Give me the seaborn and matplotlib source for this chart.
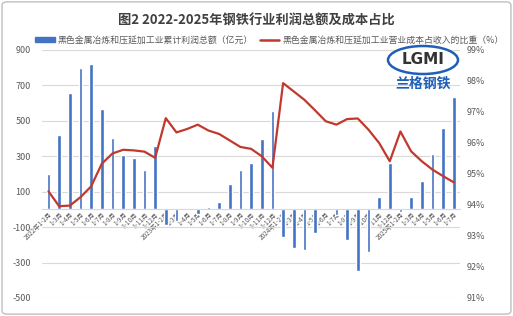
import numpy as np
import pandas as pd
import matplotlib
matplotlib.use("Agg")
import matplotlib.pyplot as plt
import seaborn as sns
from matplotlib.patches import FancyBboxPatch, Ellipse, Patch
from matplotlib.lines import Line2D

sns.set_style("white")
plt.rcParams['font.family'] = ['Noto Sans CJK SC', 'DejaVu Sans']
plt.rcParams['axes.unicode_minus'] = False

title = "图2 2022-2025年钢铁行业利润总额及成本占比"
bar_label = "黑色金属冶炼和压延加工业累计利润总额（亿元）"
line_label = "黑色金属冶炼和压延加工业营业成本占收入的比重（%）"

months = ["1-2月", "1-3月", "1-4月", "1-5月", "1-6月", "1-7月", "1-8月", "1-9月", "1-10月", "1-11月", "1-12月"]
categories = (["2022年1-2月"] + months[1:] +
              ["2023年1-2月"] + months[1:] +
              ["2024年1-2月"] + months[1:] +
              ["2025年1-2月"] + months[1:6])

profit = [200, 420, 655, 796, 821, 565, 405, 307, 292, 222, 360,
          -90, -65, 4, -25, 12, 43, 143, 222, 260, 396, 557,
          -154, -218, -229, -134, 3, -30, -172, -348, -239, 72, 264,
          -15, 70, 162, 311, 458, 636]

ratio = [94.44, 93.96, 93.98, 94.25, 94.6, 95.33, 95.66, 95.78, 95.76, 95.72, 95.52,
         96.8, 96.34, 96.45, 96.59, 96.4, 96.29, 96.08, 95.87, 95.81, 95.57, 95.2,
         97.93, 97.66, 97.39, 97.05, 96.7, 96.59, 96.77, 96.79, 96.43, 96.0, 95.41,
         96.37, 95.73, 95.41, 95.14, 94.93, 94.73]

left_ticks = [-500, -300, -100, 100, 300, 500, 700, 900]
right_ticks = [91, 92, 93, 94, 95, 96, 97, 98, 99]

df = pd.DataFrame({"cat": categories, "profit": profit, "ratio": ratio})
df["pos"] = np.arange(len(df))

BLUE = "#4472C4"
RED = "#C0392F"
GRID = "#D9D9D9"
TXT = "#595959"

fig = plt.figure(figsize=(5.13, 3.16), dpi=100)
ax = fig.add_axes([0.082, 0.057, 0.815, 0.785])

sns.barplot(data=df, x="pos", y="profit", color=BLUE, width=0.34, ax=ax,
            saturation=1, errorbar=None)
ax.set_ylim(-500, 900)
ax.set_xlim(-0.6, len(categories) - 0.4)
ax.set_yticks(left_ticks)
ax.set_yticklabels([str(t) for t in left_ticks], fontsize=6.5, color=TXT)
ax.yaxis.grid(True, color=GRID, linewidth=0.8)
ax.set_axisbelow(True)
for s in ["top", "right", "left"]:
    ax.spines[s].set_visible(False)
ax.spines["bottom"].set_position(("data", 0))
ax.spines["bottom"].set_color(GRID)
ax.spines["bottom"].set_linewidth(0.8)
ax.set_xlabel("")
ax.set_ylabel("")
ax.tick_params(axis="y", length=0, pad=8)
ax.tick_params(axis="x", length=0, pad=1)
ax.set_xticks(range(len(categories)))
ax.set_xticklabels(categories, rotation=45, ha="right", rotation_mode="anchor",
                   fontsize=4.6, color=TXT)

ax2 = ax.twinx()
sns.lineplot(data=df, x="pos", y="ratio", color=RED, linewidth=1.6, ax=ax2)
ax2.set_ylim(91, 99)
ax2.set_yticks(right_ticks)
ax2.set_yticklabels([f"{t}%" for t in right_ticks], fontsize=6.5, color=TXT)
ax2.tick_params(axis="y", length=0, pad=5)
for s in ["top", "right", "left", "bottom"]:
    ax2.spines[s].set_visible(False)
ax2.set_xlabel("")
ax2.set_ylabel("")
ax2.set_xlim(-0.6, len(categories) - 0.4)

fig.text(0.5, 0.935, title, ha="center", va="center", fontsize=9.5,
         fontweight="bold", color="#404040")

handles = [Patch(facecolor=BLUE, edgecolor=BLUE),
           Line2D([0], [0], color=RED, linewidth=1.8)]
fig.legend(handles, [bar_label, line_label], loc="center", ncol=2,
           bbox_to_anchor=(0.525, 0.872), frameon=False, fontsize=6.4,
           labelcolor=TXT, handlelength=2.2, handleheight=0.5,
           columnspacing=0.8, handletextpad=0.3)

# logo watermark
fig.patches.append(Ellipse((423 / 513, 1 - 60 / 316), 70 / 513, 28 / 316,
                           transform=fig.transFigure, facecolor="white",
                           edgecolor="#1F5FB8", linewidth=1.8, zorder=5))
fig.text(423 / 513, 1 - 60 / 316, "LGMI", ha="center", va="center", fontsize=11,
         fontweight="bold", color="#333333", zorder=6, family="DejaVu Sans")
fig.text(423 / 513, 1 - 84 / 316, "兰格钢铁", ha="center", va="center", fontsize=10,
         fontweight="bold", color="#1F5FB8", zorder=6)

fig.patches.append(FancyBboxPatch((0.004, 0.006), 0.992, 0.988,
                                  boxstyle="round,pad=0,rounding_size=0.01",
                                  transform=fig.transFigure, facecolor="none",
                                  edgecolor="#BFBFBF", linewidth=1.0))

fig.savefig("out.png", dpi=100)
